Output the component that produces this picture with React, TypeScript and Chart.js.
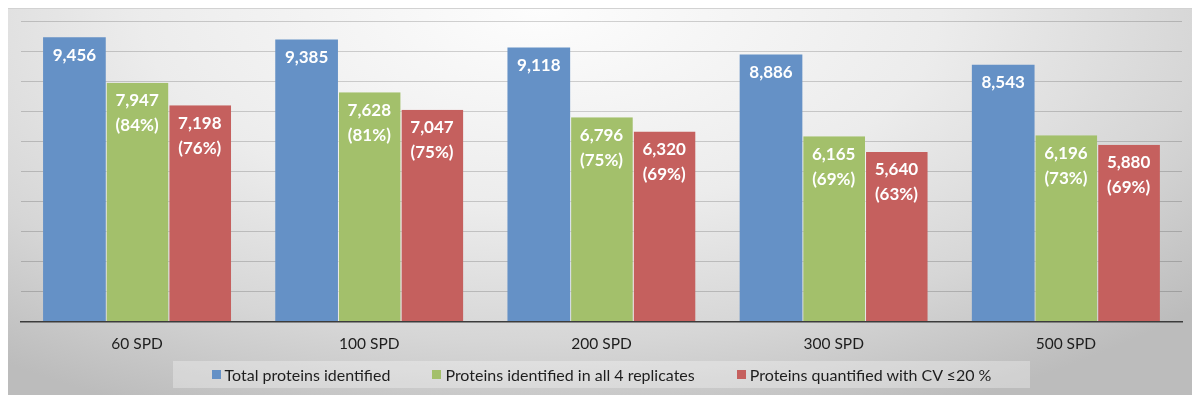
import { useEffect, useRef } from "react";
import { Chart, registerables } from "chart.js";
import type { Plugin } from "chart.js";

Chart.register(...registerables);

const categories = ["60 SPD", "100 SPD", "200 SPD", "300 SPD", "500 SPD"];
const totalProteins = [9456, 9385, 9118, 8886, 8543];
const allReplicates = [7947, 7628, 6796, 6165, 6196];
const allReplicatesPct = [84, 81, 75, 69, 73];
const cvUnder20 = [7198, 7047, 6320, 5640, 5880];
const cvUnder20Pct = [76, 75, 69, 63, 69];

const seriesLabels = [
    "Total proteins identified",
    "Proteins identified in all 4 replicates",
    "Proteins quantified with CV \u226420 %",
];
const seriesColors = ["#6591c6", "#a3c06b", "#c5605e"];

const FONT = "Lato, 'Noto Sans', sans-serif";

const fmt = (v: number) => v.toLocaleString("en-US");

const barLabels: Plugin<"bar"> = {
    id: "barLabels",
    afterDatasetsDraw(chart) {
        const ctx = chart.ctx;
        ctx.save();
        ctx.fillStyle = "#ffffff";
        ctx.font = `bold 17px ${FONT}`;
        ctx.textAlign = "center";
        ctx.textBaseline = "middle";
        chart.data.datasets.forEach((ds, di) => {
            const meta = chart.getDatasetMeta(di);
            meta.data.forEach((bar, i) => {
                const v = ds.data[i] as number;
                const lines = [fmt(v)];
                if (di === 1) lines.push(`(${allReplicatesPct[i]}%)`);
                if (di === 2) lines.push(`(${cvUnder20Pct[i]}%)`);
                lines.forEach((txt, li) => {
                    ctx.fillText(txt, bar.x, bar.y + 18 + li * 25);
                });
            });
        });
        ctx.restore();
    },
};

export default function App() {
    const canvasRef = useRef<HTMLCanvasElement | null>(null);
    const chartRef = useRef<Chart | null>(null);

    useEffect(() => {
        const canvas = canvasRef.current;
        if (!canvas) {
            return;
        }
        if (chartRef.current) {
            chartRef.current.destroy();
        }

        const values = [totalProteins, allReplicates, cvUnder20];

        chartRef.current = new Chart(canvas, {
            type: "bar",
            data: {
                labels: categories,
                datasets: values.map((data, i) => ({
                    label: seriesLabels[i],
                    data,
                    backgroundColor: seriesColors[i],
                    borderColor: "rgba(255,255,255,0.45)",
                    borderWidth: i === 0 ? 0 : { left: 1, top: 0, right: 0, bottom: 0 },
                    borderSkipped: false,
                    categoryPercentage: 0.81,
                    barPercentage: 1,
                })),
            },
            options: {
                responsive: true,
                maintainAspectRatio: false,
                animation: false,
                layout: { padding: { left: 13, right: 10, top: 12, bottom: 4 } },
                scales: {
                    x: {
                        grid: { display: false, drawTicks: false },
                        border: { display: true, color: "#3c3c3c", width: 1.5 },
                        ticks: {
                            color: "#1e1e1e",
                            padding: 13,
                            font: { family: FONT, size: 15.5 },
                        },
                    },
                    y: {
                        min: 0,
                        max: 10000,
                        ticks: { display: false, stepSize: 1000 },
                        grid: { color: "rgba(0,0,0,0.17)", drawTicks: false },
                        border: { display: false },
                    },
                },
                plugins: {
                    legend: { display: false },
                    tooltip: { enabled: false },
                },
            },
            plugins: [barLabels],
        });

        return () => {
            if (chartRef.current) {
                chartRef.current.destroy();
                chartRef.current = null;
            }
        };
    }, []);

    return (
        <div
            style={{
                height: 387,
                boxSizing: "border-box",
                borderTop: "1px solid #d2d2d2",
                background:
                    "radial-gradient(ellipse 75% 115% at 45% 0%, #fdfdfd 0%, #ececec 45%, #d6d6d6 75%, #bcbcbc 100%)",
                fontFamily: FONT,
            }}
        >
            <div style={{ position: "relative", height: 361 }}>
                <canvas ref={canvasRef} />
            </div>
            <div
                style={{
                    margin: "-9px 0 0 165px",
                    width: 857,
                    height: 27,
                    boxSizing: "border-box",
                    background: "rgba(255,255,255,0.3)",
                    display: "flex",
                    alignItems: "center",
                    justifyContent: "center",
                    gap: 42,
                    fontSize: 16,
                    color: "#1e1e1e",
                    position: "relative",
                }}
            >
                {seriesLabels.map((label, i) => (
                    <span key={label} style={{ display: "flex", alignItems: "center" }}>
                        <span
                            style={{
                                display: "inline-block",
                                width: 9,
                                height: 9,
                                background: seriesColors[i],
                                marginRight: 4,
                            }}
                        />
                        {label}
                    </span>
                ))}
            </div>
        </div>
    );
}
